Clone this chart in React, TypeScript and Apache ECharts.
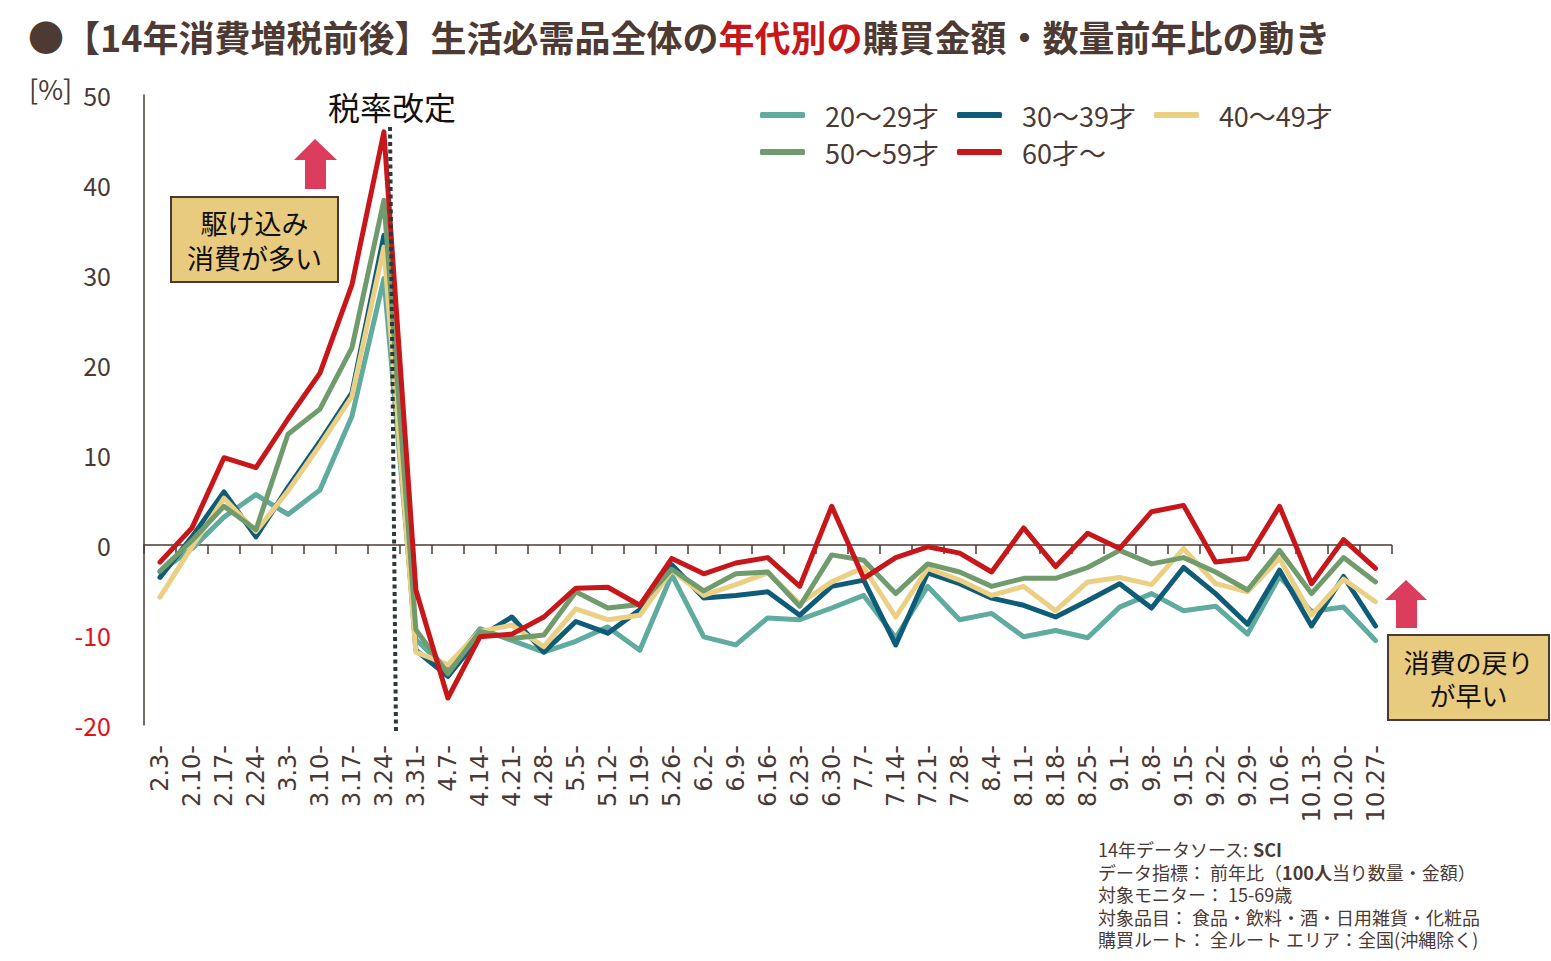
import React, { useEffect, useRef } from "react";
import * as echarts from "echarts";

// Weekly categories (2014, month.day)
const categories = [
  "2.3", "2.10", "2.17", "2.24", "3.3", "3.10", "3.17", "3.24", "3.31",
  "4.7", "4.14", "4.21", "4.28", "5.5", "5.12", "5.19", "5.26",
  "6.2", "6.9", "6.16", "6.23", "6.30", "7.7", "7.14", "7.21", "7.28",
  "8.4", "8.11", "8.18", "8.25", "9.1", "9.8", "9.15", "9.22", "9.29",
  "10.6", "10.13", "10.20", "10.27",
];

// Year-on-year change [%] by age group
const age20s = [
  -3.0, -0.4, 3.1, 5.6, 3.4, 6.1, 14.3, 29.6, -10.5, -13.9, -9.3, -10.6, -11.9,
  -10.7, -9.1, -11.7, -3.3, -10.2, -11.1, -8.1, -8.3, -7.0, -5.6, -10.3, -4.6, -8.3,
  -7.6, -10.2, -9.5, -10.3, -6.9, -5.4, -7.3, -6.8, -9.9, -3.5, -7.4, -6.9, -10.6,
];
const age30s = [
  -3.6, 0.9, 5.9, 0.9, 6.4, 11.5, 16.9, 34.4, -11.7, -14.6, -10.2, -8.0, -11.9,
  -8.5, -9.8, -7.2, -2.2, -5.9, -5.6, -5.2, -7.8, -4.6, -3.9, -11.1, -3.1, -4.3,
  -5.9, -6.7, -8.0, -6.2, -4.3, -7.0, -2.5, -5.4, -8.8, -2.8, -9.0, -3.5, -9.0,
];
const age40s = [
  -5.8, -0.2, 5.2, 1.5, 6.0, 11.1, 16.5, 33.1, -11.9, -13.3, -9.6, -8.9, -11.3,
  -7.1, -8.3, -7.8, -2.8, -5.6, -4.4, -3.1, -6.5, -4.1, -2.5, -8.0, -2.6, -3.9,
  -5.6, -4.6, -7.3, -4.1, -3.6, -4.4, -0.4, -4.3, -5.2, -1.5, -7.8, -3.8, -6.3,
];
const age50s = [
  -2.9, 0.5, 4.3, 1.7, 12.3, 15.1, 21.9, 38.3, -9.4, -14.3, -9.6, -10.4, -10.0,
  -5.2, -7.0, -6.6, -2.7, -5.1, -3.2, -3.0, -6.8, -1.1, -1.7, -5.4, -2.1, -3.0,
  -4.6, -3.7, -3.7, -2.5, -0.6, -2.1, -1.4, -3.0, -5.0, -0.6, -5.4, -1.4, -4.1,
];
const age60plus = [
  -1.9, 1.9, 9.7, 8.6, 14.0, 19.1, 28.9, 45.9, -5.0, -17.0, -10.2, -9.9, -8.0,
  -4.8, -4.7, -6.7, -1.5, -3.2, -2.0, -1.4, -4.6, 4.3, -3.7, -1.4, -0.2, -0.9,
  -3.0, 1.9, -2.4, 1.3, -0.4, 3.7, 4.4, -1.9, -1.5, 4.3, -4.3, 0.6, -2.6,
];

const seriesNames = ["20～29才", "30～39才", "40～49才", "50～59才", "60才～"];
const seriesColors = ["#5fab9f", "#0e5c78", "#ebcf83", "#709b6c", "#c8171a"];
const seriesData = [age20s, age30s, age40s, age50s, age60plus];

const sourceLines = [
  "14年データソース: {b|SCI}",
  "データ指標： 前年比（{b|100人}当り数量・金額）",
  "対象モニター： 15-69歳",
  "対象品目： 食品・飲料・酒・日用雑貨・化粧品",
  "購買ルート： 全ルート エリア：全国(沖縄除く)",
];

const FONT = '"Noto Sans CJK JP", "Noto Sans", sans-serif';
const BROWN = "#4a3a33";
const BOX_FILL = "#e9cb7f";
const ARROW = "#dc3d5d";

export default function App() {
  const ref = useRef<HTMLDivElement>(null);

  useEffect(() => {
    if (!ref.current) return;
    const chart = echarts.init(ref.current, null, { renderer: "svg" });

    const legendBase = {
      left: 760,
      padding: 0,
      itemWidth: 45,
      itemHeight: 6,
      icon: "roundRect",
      itemGap: 18,
      orient: "horizontal",
      textStyle: {
        fontSize: 27,
        lineHeight: 27,
        color: BROWN,
        fontFamily: FONT,
        padding: [0, 0, 0, 15],
        width: 112,
      },
    };

    const sourceTexts = sourceLines.map((line, i) => ({
      type: "text",
      x: 1098,
      y: 849 + i * 22.5,
      style: {
        text: line,
        fontSize: 18,
        fill: BROWN,
        fontFamily: FONT,
        verticalAlign: "middle",
        rich: {
          b: { fontSize: 18, fontWeight: "bold", fill: BROWN, fontFamily: FONT },
        },
      },
    }));

    const option: any = {
      animation: false,
      backgroundColor: "#ffffff",
      textStyle: { fontFamily: FONT },
      grid: { left: 144, right: 159.5, top: 95, bottom: 236 },
      legend: [
        { ...legendBase, top: 101.5, data: seriesNames.slice(0, 3) },
        { ...legendBase, top: 138.5, data: seriesNames.slice(3) },
      ],
      xAxis: [
        {
          type: "category",
          data: categories,
          position: "bottom",
          axisLine: { show: false, onZero: false },
          axisTick: { show: false },
          axisLabel: {
            interval: 0,
            rotate: 90,
            margin: 20,
            fontSize: 24,
            color: BROWN,
            fontFamily: '"DejaVu Sans", sans-serif',
            formatter: (v: string) => `${v}-`,
          },
        },
        {
          type: "category",
          data: categories,
          position: "bottom",
          axisLine: { show: true, onZero: true, lineStyle: { color: BROWN, width: 1.5 } },
          axisTick: { show: true, interval: 0, length: 9, lineStyle: { color: BROWN, width: 1.5 } },
          axisLabel: { show: false },
        },
      ],
      yAxis: {
        type: "value",
        min: -20,
        max: 50,
        interval: 10,
        axisLine: { show: true, lineStyle: { color: BROWN, width: 1.5 } },
        axisTick: { show: false },
        splitLine: { show: false },
        axisLabel: {
          margin: 33,
          fontSize: 25,
          color: BROWN,
          fontFamily: FONT,
          formatter: (v: number) => (v < 0 ? `{neg|${v}}` : `${v}`),
          rich: { neg: { color: "#e0111b", fontSize: 25, fontFamily: FONT } },
        },
      },
      series: seriesNames.map((name, i) => ({
        name,
        type: "line",
        data: seriesData[i],
        xAxisIndex: 0,
        showSymbol: false,
        symbol: "none",
        color: seriesColors[i],
        lineStyle: { width: 5, color: seriesColors[i], cap: "round", join: "round" },
        z: 2 + i,
      })),
      graphic: [
        {
          type: "text",
          left: 28,
          top: 18,
          style: {
            text: "{a|●【14年消費増税前後】生活必需品全体の}{r|年代別の}{a|購買金額・数量前年比の動き}",
            rich: {
              a: { fontSize: 36, fontWeight: "bold", fill: "#4d3a33", fontFamily: FONT },
              r: { fontSize: 36, fontWeight: "bold", fill: "#c8171a", fontFamily: FONT },
            },
          },
        },
        {
          type: "text",
          x: 29,
          y: 88,
          style: {
            text: "[%]",
            fontSize: 27,
            fill: BROWN,
            fontFamily: FONT,
            verticalAlign: "middle",
          },
        },
        {
          type: "text",
          x: 392,
          y: 106,
          style: {
            text: "税率改定",
            fontSize: 32,
            fill: "#111111",
            fontFamily: FONT,
            align: "center",
            verticalAlign: "middle",
          },
        },
        {
          type: "line",
          z: 100,
          shape: { x1: 390, y1: 127, x2: 396, y2: 732 },
          style: { stroke: "#2e393b", lineWidth: 4, lineDash: [4, 3.5] },
        },
        // upward arrow above the first note
        {
          type: "polygon",
          z: 100,
          shape: {
            points: [
              [315, 139], [337, 160], [326, 160], [326, 189],
              [305, 189], [305, 160], [294, 160],
            ],
          },
          style: { fill: ARROW },
        },
        {
          type: "rect",
          z: 100,
          shape: { x: 171, y: 197, width: 167, height: 85 },
          style: { fill: BOX_FILL, stroke: BROWN, lineWidth: 2 },
        },
        {
          type: "text",
          z: 101,
          x: 254.5,
          y: 240,
          style: {
            text: "駆け込み\n消費が多い",
            fontSize: 27,
            lineHeight: 35,
            fill: "#111111",
            fontFamily: FONT,
            align: "center",
            verticalAlign: "middle",
          },
        },
        // upward arrow above the second note
        {
          type: "polygon",
          z: 100,
          shape: {
            points: [
              [1406, 580], [1427, 600], [1417, 600], [1417, 628],
              [1396, 628], [1396, 600], [1385, 600],
            ],
          },
          style: { fill: ARROW },
        },
        {
          type: "rect",
          z: 100,
          shape: { x: 1388, y: 635, width: 161, height: 85 },
          style: { fill: BOX_FILL, stroke: BROWN, lineWidth: 2 },
        },
        {
          type: "text",
          z: 101,
          x: 1468.5,
          y: 678,
          style: {
            text: "消費の戻り\nが早い",
            fontSize: 26,
            lineHeight: 33,
            fill: "#111111",
            fontFamily: FONT,
            align: "center",
            verticalAlign: "middle",
          },
        },
        ...sourceTexts,
      ],
    };

    chart.setOption(option);
    return () => chart.dispose();
  }, []);

  return (
    <div
      ref={ref}
      style={{ position: "fixed", left: 0, top: 0, width: 1551, height: 961, background: "#fff" }}
    />
  );
}
